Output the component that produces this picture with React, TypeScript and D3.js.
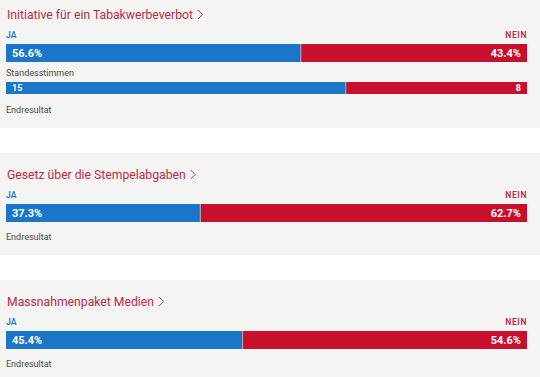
import React, { useEffect, useRef } from "react";
import * as d3 from "d3";

const titles = ["Initiative für ein Tabakwerbeverbot", "Gesetz über die Stempelabgaben", "Massnahmenpaket Medien"];
const yesPct = [56.6, 37.3, 45.4];
const noPct = [43.4, 62.7, 54.6];
const standesYes = [15, null, null];
const standesNo = [8, null, null];
const yesLabel = "JA";
const noLabel = "NEIN";
const standesLabel = "Standesstimmen";
const resultLabel = "Endresultat";

const W = 540, H = 377;
const BLUE = "#1b76c8";
const RED = "#c8102e";
const TITLE = "#bb2b45";
const BG = "#f4f4f2";
const FONT = "Roboto, 'Open Sans', sans-serif";

export default function App() {
  const ref = useRef<SVGSVGElement>(null);
  useEffect(() => {
    const svg = d3.select(ref.current);
    svg.selectAll("*").remove();
    svg.append("rect").attr("width", W).attr("height", H).attr("fill", "#fff");
    const panelTops = [-7, 153, 280];
    const panelHeights = [135, 102, 110];
    const x = d3.scaleLinear().domain([0, 100]).range([6, 527]);
    titles.forEach((t, i) => {
      const g = svg.append("g").attr("transform", `translate(0,${panelTops[i]})`);
      g.append("rect").attr("x", 0).attr("y", 0).attr("width", W).attr("height", panelHeights[i]).attr("fill", BG);
      const title = g.append("text").attr("x", 7).attr("y", 26).attr("fill", TITLE)
        .attr("font-family", FONT).attr("font-size", 12.2).text(t);
      const tw = (title.node() as SVGTextElement).getComputedTextLength();
      const cx = 7 + tw + 5;
      g.append("path").attr("d", `M${cx},${17} L${cx + 4.5},${21.5} L${cx},${26}`)
        .attr("fill", "none").attr("stroke", TITLE).attr("stroke-width", 1);
      g.append("text").attr("x", 6).attr("y", 45).attr("fill", BLUE).attr("font-family", FONT)
        .attr("font-size", 8.5).attr("font-weight", 600).text(yesLabel);
      g.append("text").attr("x", 527).attr("y", 45).attr("text-anchor", "end").attr("fill", TITLE)
        .attr("font-family", FONT).attr("font-size", 8.5).attr("font-weight", 600).attr("letter-spacing", 0.6).text(noLabel);
      const by = 51, bh = 18;
      g.append("rect").attr("x", x(0)).attr("y", by).attr("width", x(yesPct[i]) - x(0)).attr("height", bh).attr("fill", BLUE);
      g.append("rect").attr("x", x(yesPct[i])).attr("y", by).attr("width", x(100) - x(yesPct[i])).attr("height", bh).attr("fill", RED);
      g.append("rect").attr("x", x(yesPct[i]) - 0.5).attr("y", by).attr("width", 1).attr("height", bh).attr("fill", "#b9a9b8");
      g.append("text").attr("x", x(0) + 6).attr("y", by + 13).attr("fill", "#fff").attr("font-family", FONT)
        .attr("font-size", 11).attr("font-weight", 700).text(`${yesPct[i].toFixed(1)}%`);
      g.append("text").attr("x", x(100) - 6).attr("y", by + 13).attr("text-anchor", "end").attr("fill", "#fff").attr("font-family", FONT)
        .attr("font-size", 11).attr("font-weight", 700).text(`${noPct[i].toFixed(1)}%`);
      let endY = 87;
      const sy = standesYes[i], sn = standesNo[i];
      if (sy != null && sn != null) {
        const xs = d3.scaleLinear().domain([0, sy + sn]).range([6, 527]);
        g.append("text").attr("x", 6).attr("y", 83).attr("fill", "#4a4a4a").attr("font-family", FONT)
          .attr("font-size", 9).text(standesLabel);
        const sby = 89, sbh = 12;
        g.append("rect").attr("x", xs(0)).attr("y", sby).attr("width", xs(sy) - xs(0)).attr("height", sbh).attr("fill", BLUE);
        g.append("rect").attr("x", xs(sy)).attr("y", sby).attr("width", xs(sy + sn) - xs(sy)).attr("height", sbh).attr("fill", RED);
        g.append("rect").attr("x", xs(sy) - 0.5).attr("y", sby).attr("width", 1).attr("height", sbh).attr("fill", "#b9a9b8");
        g.append("text").attr("x", xs(0) + 6).attr("y", sby + 9).attr("fill", "#fff").attr("font-family", FONT)
          .attr("font-size", 9).attr("font-weight", 700).text(String(sy));
        g.append("text").attr("x", xs(sy + sn) - 6).attr("y", sby + 9).attr("text-anchor", "end").attr("fill", "#fff").attr("font-family", FONT)
          .attr("font-size", 9).attr("font-weight", 700).text(String(sn));
        endY = 120;
      }
      g.append("text").attr("x", 6).attr("y", endY).attr("fill", "#4a4a4a").attr("font-family", FONT)
        .attr("font-size", 9).text(resultLabel);
    });
  }, []);
  return (
    <svg ref={ref} width={W} height={H} style={{ position: "fixed", left: 0, top: 0, display: "block" }} />
  );
}
